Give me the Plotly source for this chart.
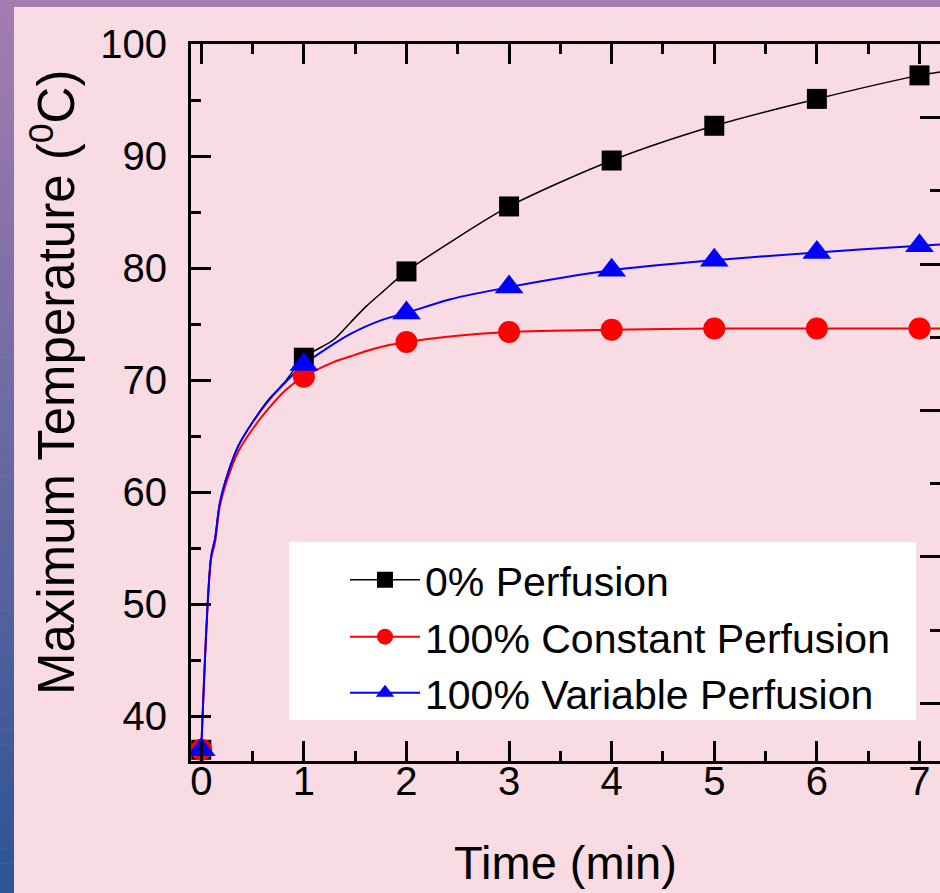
import plotly.graph_objects as go

# ---------------- data ----------------
time_markers = [0, 1, 2, 3, 4, 5, 6, 7]
temp_zero = [37.0, 72.0, 79.7, 85.5, 89.6, 92.7, 95.1, 97.2]
temp_const = [37.0, 70.3, 73.4, 74.3, 74.5, 74.6, 74.6, 74.6]
temp_var = [37.0, 71.4, 76.0, 78.3, 79.8, 80.7, 81.4, 82.0]

curve_t_zero = [0, 0.095, 0.134, 0.18, 0.26, 0.36, 0.49, 0.65, 0.82, 1.0, 1.29, 1.45, 1.61, 1.77, 2.0, 2.46, 3, 4, 5, 6, 7, 7.2]
curve_zero = [37, 54.2, 55.9, 59.0, 61.7, 64.1, 66.1, 68.2, 69.9, 72.0, 73.6, 75.1, 76.6, 77.9, 79.7, 82.5, 85.5, 89.6, 92.7, 95.1, 97.2, 97.5]

curve_t_const = [0, 0.095, 0.134, 0.18, 0.26, 0.36, 0.49, 0.65, 0.82, 1.0, 1.29, 1.45, 1.61, 1.77, 2.0, 2.42, 3, 4, 5, 6, 7, 7.2]
curve_const = [37, 54.0, 55.5, 58.7, 61.3, 63.6, 65.5, 67.4, 69.1, 70.3, 71.6, 72.1, 72.6, 73.0, 73.4, 73.9, 74.3, 74.5, 74.6, 74.6, 74.6, 74.6]

curve_t_var = [0, 0.095, 0.134, 0.18, 0.26, 0.36, 0.49, 0.65, 0.82, 1.0, 1.45, 1.77, 2.0, 2.42, 3, 4, 5, 6, 7, 7.2]
curve_var = [37, 54.2, 55.8, 59.0, 61.7, 64.1, 66.1, 68.1, 69.8, 71.4, 74.1, 75.4, 76.0, 77.2, 78.3, 79.8, 80.7, 81.4, 82.0, 82.1]

series_names = ["0% Perfusion", "100% Constant Perfusion", "100% Variable Perfusion"]
x_tick_vals = [0, 1, 2, 3, 4, 5, 6, 7]
y_tick_vals = [40, 50, 60, 70, 80, 90, 100]

# ---------------- layout geometry ----------------
W, H = 940, 893
L, R, T, B = 191, 0, 44, 132
PW, PH = W - L - R, H - T - B
FONT = "Liberation Sans, Arial, sans-serif"
PINK = "rgb(248,219,227)"


def px_x(px):
    return (px - L) / PW


def px_y(py):
    return (H - B - py) / PH


fig = go.Figure()

colors = ["black", "red", "blue"]
symbols = ["square", "circle", "triangle-up"]
msizes = [20, 22, 25]
lwidths = [1.5, 2, 2]
curves = [(curve_t_zero, curve_zero), (curve_t_const, curve_const), (curve_t_var, curve_var)]
marks = [temp_zero, temp_const, temp_var]
legend_ids = ["legend", "legend2", "legend3"]
legend_rows = [580, 637, 693]

for i in range(3):
    fig.add_trace(go.Scatter(
        x=curves[i][0], y=curves[i][1], mode="lines",
        line=dict(color=colors[i], width=lwidths[i], shape="spline", smoothing=0.8),
        showlegend=False, hoverinfo="skip", legendgroup=str(i)))
for i in range(3):
    fig.add_trace(go.Scatter(
        x=time_markers, y=marks[i], mode="markers",
        marker=dict(color=colors[i], symbol=symbols[i], size=msizes[i], line=dict(width=0)),
        showlegend=False, legendgroup=str(i), name=series_names[i]))
# legend entries (line + marker), one legend per row
for i in range(3):
    fig.add_trace(go.Scatter(
        x=[None], y=[None], mode="lines+markers", name=series_names[i],
        line=dict(color=colors[i], width=lwidths[i]),
        marker=dict(color=colors[i], symbol=symbols[i], size=msizes[i], line=dict(width=0)),
        legendgroup=str(i), yaxis="y2", legend=legend_ids[i]))

# ---------------- decorations ----------------
shapes = []
# legend white box
shapes.append(dict(type="rect", xref="paper", yref="paper",
                   x0=px_x(289), x1=px_x(916), y0=px_y(720), y1=px_y(542),
                   fillcolor="white", line=dict(width=0), layer="above"))
# top purple band
shapes.append(dict(type="rect", xref="paper", yref="paper",
                   x0=px_x(0), x1=px_x(W), y0=px_y(7), y1=px_y(0),
                   fillcolor="rgb(165,125,176)", line=dict(width=0), layer="above"))
# left gradient band
c_top = (165, 125, 176)
c_bot = (44, 84, 148)
n = 60
for k in range(n):
    y0p = k * H / n
    y1p = (k + 1) * H / n
    f = (k + 0.5) / n
    c = tuple(int(round(c_top[j] + (c_bot[j] - c_top[j]) * f)) for j in range(3))
    shapes.append(dict(type="rect", xref="paper", yref="paper",
                       x0=px_x(0), x1=px_x(14), y0=px_y(y1p + 0.5), y1=px_y(y0p),
                       fillcolor="rgb(%d,%d,%d)" % c, line=dict(width=0), layer="above"))

annotations = [dict(
    text="Maximum Temperature (<sup>0</sup>C)", textangle=-90,
    xref="paper", yref="paper", x=px_x(53), y=px_y(383),
    xanchor="center", yanchor="middle", showarrow=False,
    font=dict(family=FONT, size=51, color="black"))]

axis_common = dict(showgrid=False, zeroline=False, showline=True, linecolor="black",
                   linewidth=3, ticks="inside", ticklen=20, tickwidth=3, tickcolor="black",
                   tickfont=dict(family=FONT, size=40, color="black"))

legend_common = dict(xanchor="left", yanchor="middle", bgcolor="rgba(0,0,0,0)", borderwidth=0,
                     font=dict(family=FONT, size=41, color="black"), itemwidth=70)

fig.update_layout(
    width=W, height=H,
    margin=dict(l=L, r=R, t=T, b=B, pad=0),
    paper_bgcolor=PINK, plot_bgcolor=PINK,
    font=dict(family=FONT, color="black"),
    xaxis=dict(range=[-0.1, 7.2], tickvals=x_tick_vals, mirror="ticks", ticklabelstandoff=-17,
               minor=dict(dtick=0.5, tick0=0, ticks="inside", ticklen=10, tickwidth=3, tickcolor="black"),
               title=dict(text="Time (min)", font=dict(family=FONT, size=47, color="black"), standoff=45),
               **axis_common),
    yaxis=dict(range=[36, 100], tickvals=y_tick_vals, mirror=False, ticklabelstandoff=13,
               minor=dict(dtick=5, tick0=0, ticks="inside", ticklen=10, tickwidth=3, tickcolor="black"),
               **axis_common),
    yaxis2=dict(overlaying="y", side="right", anchor="x", range=[-0.395, 4.504],
                dtick=1, tick0=0, showticklabels=False, showgrid=False, zeroline=False,
                showline=False, ticks="inside", ticklen=20, tickwidth=3, tickcolor="black",
                minor=dict(dtick=0.5, tick0=0, ticks="inside", ticklen=10, tickwidth=3, tickcolor="black")),
    legend=dict(x=px_x(345), y=px_y(legend_rows[0]), **legend_common),
    legend2=dict(x=px_x(345), y=px_y(legend_rows[1]), **legend_common),
    legend3=dict(x=px_x(345), y=px_y(legend_rows[2]), **legend_common),
    shapes=shapes,
    annotations=annotations,
)

fig.write_html("out.html", config={"displayModeBar": False},
               post_script="document.body.style.margin='0';document.body.style.padding='0';")
